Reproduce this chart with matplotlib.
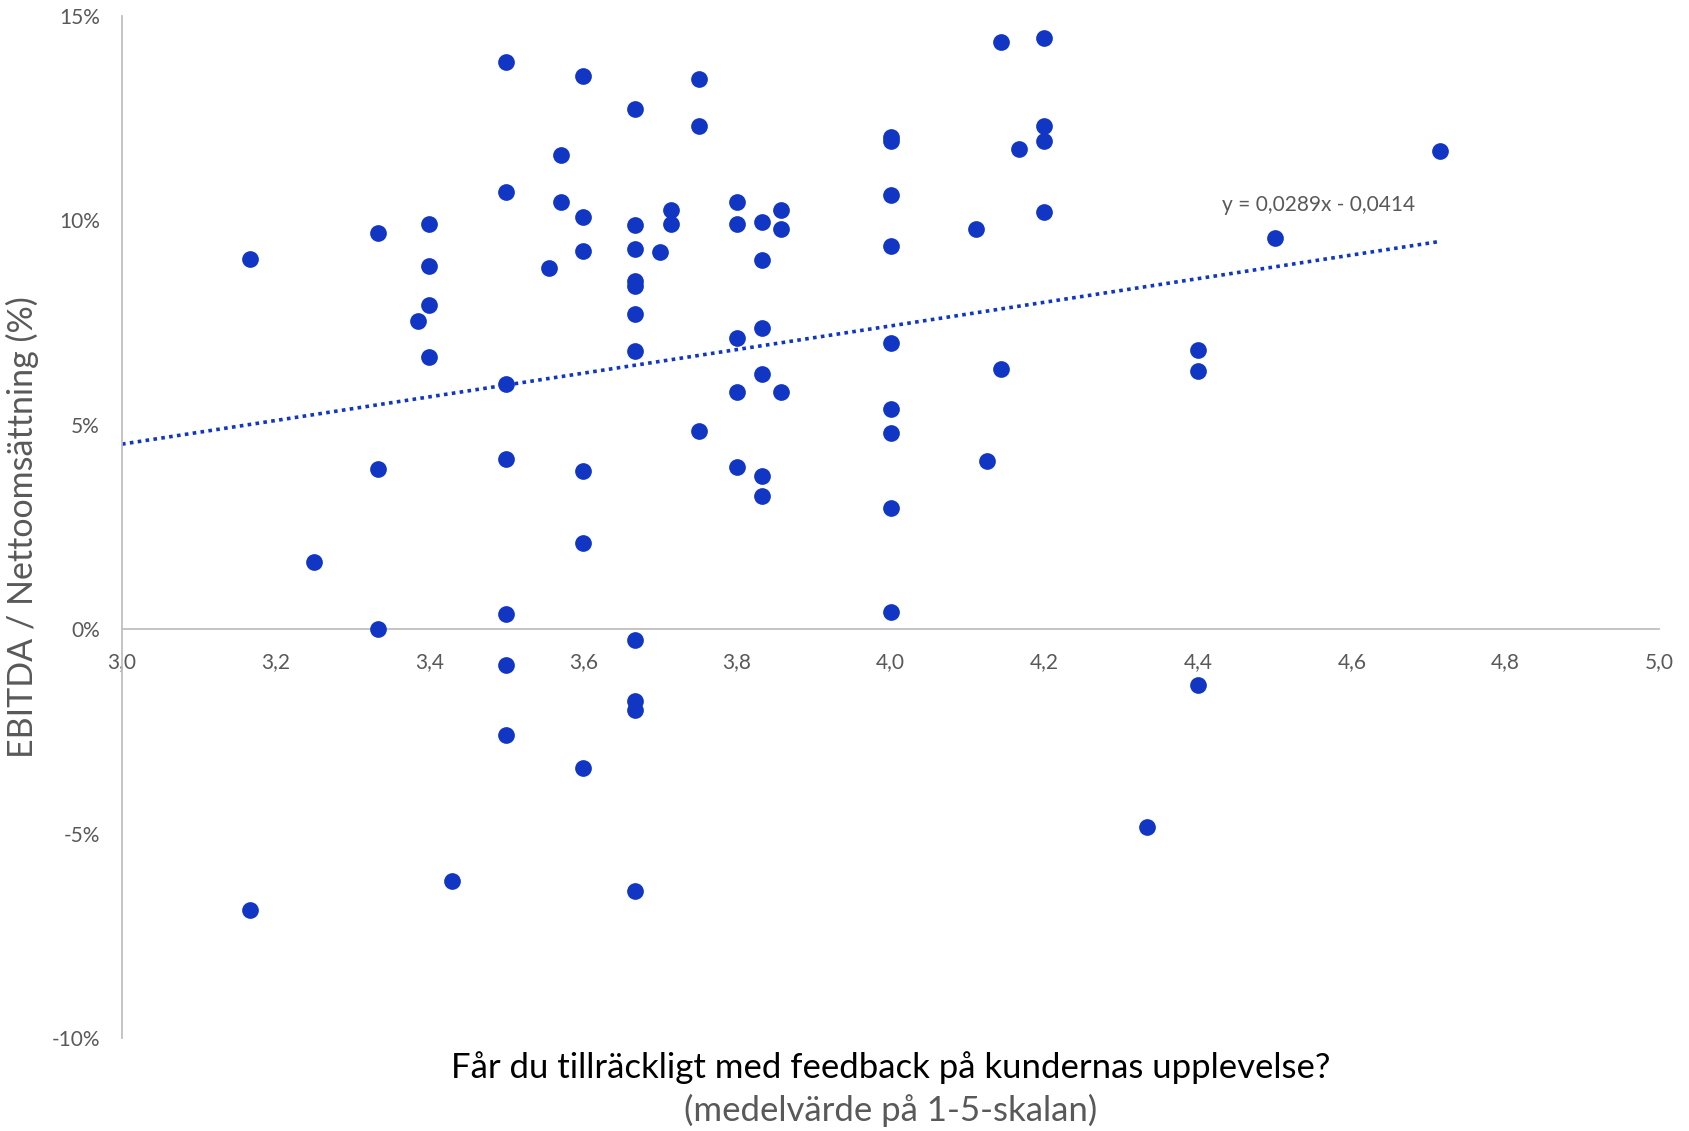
import matplotlib
matplotlib.use("Agg")
import matplotlib.pyplot as plt
import numpy as np
from matplotlib.ticker import FuncFormatter

plt.rcParams['font.family'] = ['Lato', 'DejaVu Sans']

# Data: average score (1-5 scale) vs EBITDA margin (%)
score = [3.167, 3.167, 3.25, 3.333, 3.333, 3.333, 3.385, 3.4, 3.4, 3.4, 3.4, 3.429,
         3.5, 3.5, 3.5, 3.5, 3.5, 3.5, 3.5, 3.556, 3.571, 3.571,
         3.6, 3.6, 3.6, 3.6, 3.6, 3.6,
         3.667, 3.667, 3.667, 3.667, 3.667, 3.667, 3.667, 3.667, 3.667, 3.667, 3.667,
         3.7, 3.714, 3.714, 3.75, 3.75, 3.75,
         3.8, 3.8, 3.8, 3.8, 3.8,
         3.833, 3.833, 3.833, 3.833, 3.833, 3.833,
         3.857, 3.857, 3.857,
         4.0, 4.0, 4.0, 4.0, 4.0, 4.0, 4.0, 4.0, 4.0,
         4.111, 4.125, 4.143, 4.143, 4.167, 4.2, 4.2, 4.2, 4.2,
         4.333, 4.4, 4.4, 4.4, 4.5, 4.714]
ebitda_pct = [9.05, -6.86, 1.64, 9.68, 3.93, 0.0, 7.55, 9.92, 8.89, 7.92, 6.65, -6.15,
              13.88, 10.69, 5.99, 4.17, 0.37, -0.87, -2.59, 8.84, 11.61, 10.45,
              13.54, 10.08, 9.26, 3.88, 2.11, -3.38,
              12.72, 9.89, 9.31, 8.52, 8.39, 7.70, 6.81, -0.26, -1.74, -1.98, -6.39,
              9.23, 10.26, 9.92, 13.46, 12.30, 4.85,
              10.45, 9.92, 7.12, 5.80, 3.98,
              9.95, 9.02, 7.36, 6.25, 3.75, 3.27,
              10.26, 9.79, 5.80,
              12.03, 11.95, 10.61, 9.37, 6.99, 5.38, 4.80, 2.98, 0.42,
              9.79, 4.12, 14.35, 6.36, 11.74, 14.46, 12.30, 11.95, 10.21,
              -4.83, 6.83, 6.31, -1.37, 9.58, 11.69]

# Linear trendline (as reported on chart)
slope = 0.0289
intercept = -0.0414
trend_label = "y = 0,0289x - 0,0414"

x_ticks = [3.0, 3.2, 3.4, 3.6, 3.8, 4.0, 4.2, 4.4, 4.6, 4.8, 5.0]
y_ticks = [-10, -5, 0, 5, 10, 15]

xlabel_main = "Får du tillräckligt med feedback på kundernas upplevelse?"
xlabel_sub = "(medelvärde på 1-5-skalan)"
ylabel = "EBITDA / Nettoomsättning (%)"

DOT = '#1236C4'
GRAY = '#595959'
AXIS = '#BFBFBF'

fig = plt.figure(figsize=(16.9, 11.31), dpi=100)
ax = fig.add_axes([0.0722, 0.0818, 0.9097, 0.9042])

ax.scatter(score, ebitda_pct, s=145, color=DOT, zorder=3, linewidths=0)

tx = np.array([x_ticks[0], max(score)])
ax.plot(tx, (slope * tx + intercept) * 100, linestyle=(0, (1, 1.2)), color=DOT,
        linewidth=2.6, zorder=2)
ax.text(4.431, 10.37, trend_label, ha='left', va='center', fontsize=15, color=GRAY)

ax.set_xlim(x_ticks[0], x_ticks[-1])
ax.set_ylim(y_ticks[0], y_ticks[-1])
ax.set_xticks(x_ticks)
ax.set_yticks(y_ticks)
ax.xaxis.set_major_formatter(FuncFormatter(lambda v, p: f"{v:.1f}".replace('.', ',')))
ax.yaxis.set_major_formatter(FuncFormatter(lambda v, p: f"{int(round(v))}%"))

for s in ['top', 'right']:
    ax.spines[s].set_visible(False)
ax.spines['left'].set_color(AXIS)
ax.spines['left'].set_linewidth(1.3)
ax.spines['bottom'].set_position(('data', 0))
ax.spines['bottom'].set_color(AXIS)
ax.spines['bottom'].set_linewidth(1.3)

ax.tick_params(axis='both', length=0, labelsize=15, labelcolor=GRAY)
ax.tick_params(axis='x', pad=16)
ax.tick_params(axis='y', pad=16)

ax.set_ylabel(ylabel, fontsize=24.5, color=GRAY)
ax.yaxis.set_label_coords(-0.065, 0.5)
ax.yaxis.label.set_verticalalignment('center')

ax.text(0.5, -0.0284, xlabel_main, transform=ax.transAxes, ha='center', va='center',
        fontsize=25, color='black')
ax.text(0.5, -0.0705, xlabel_sub, transform=ax.transAxes, ha='center', va='center',
        fontsize=25, color=GRAY)

fig.savefig('out.png', dpi=100)
